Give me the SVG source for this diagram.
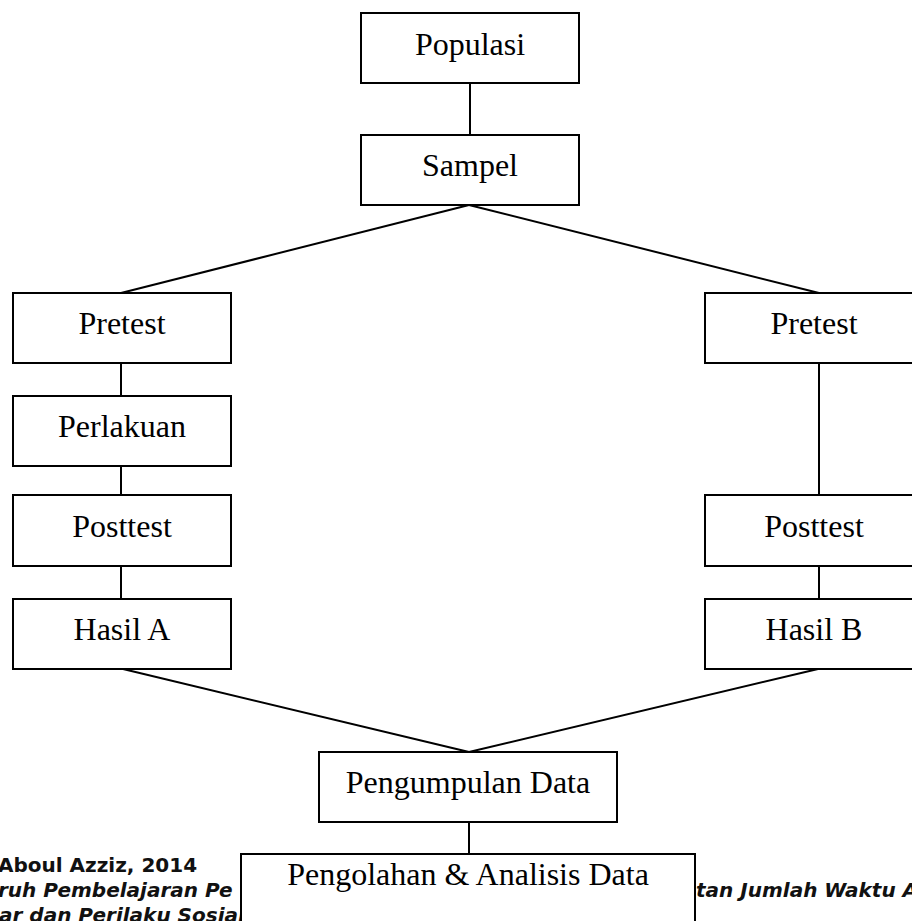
<svg xmlns="http://www.w3.org/2000/svg" width="912" height="921" viewBox="0 0 912 921">
<style>
.box{fill:#fff;stroke:#000;stroke-width:2}
.lbl{font-family:"Liberation Serif","Times New Roman",serif;font-size:32px;fill:#000;text-anchor:middle}
.conn line{stroke:#000;stroke-width:2}
.foot{font-family:"DejaVu Sans",Verdana,sans-serif;font-size:20px;font-weight:bold;fill:#111}
.it{font-style:italic}
</style>
<rect width="912" height="921" fill="#fff"/>
<g id="footer">
<text class="foot" x="-2" y="872">Aboul Azziz, 2014</text>
<text class="foot it" x="-2" y="897">ruh Pembelajaran Pe</text>
<text class="foot it" x="-1" y="922">ar dan Perilaku Sosial</text>
<text class="foot it" x="696" y="897">tan Jumlah Waktu A</text>
</g>
<g id="connectors" class="conn">
<line x1="470" y1="84" x2="470" y2="135"/>
<line x1="469" y1="205" x2="121" y2="293"/>
<line x1="469" y1="205" x2="819" y2="293"/>
<line x1="121" y1="363" x2="121" y2="396"/>
<line x1="121" y1="466" x2="121" y2="495"/>
<line x1="121" y1="566" x2="121" y2="599"/>
<line x1="819" y1="363" x2="819" y2="495"/>
<line x1="819" y1="566" x2="819" y2="599"/>
<line x1="123" y1="669" x2="469" y2="752"/>
<line x1="818" y1="669" x2="469" y2="752"/>
<line x1="469" y1="822" x2="469" y2="854"/>
</g>
<g id="populasi"><rect class="box" x="361" y="13" width="218" height="70"/><text class="lbl" x="470" y="55">Populasi</text></g>
<g id="sampel"><rect class="box" x="361" y="135" width="218" height="70"/><text class="lbl" x="470" y="176">Sampel</text></g>
<g id="pretest-a"><rect class="box" x="13" y="293" width="218" height="70"/><text class="lbl" x="122" y="334">Pretest</text></g>
<g id="perlakuan"><rect class="box" x="13" y="396" width="218" height="70"/><text class="lbl" x="122" y="437">Perlakuan</text></g>
<g id="posttest-a"><rect class="box" x="13" y="495" width="218" height="71"/><text class="lbl" x="122" y="537">Posttest</text></g>
<g id="hasil-a"><rect class="box" x="13" y="599" width="218" height="70"/><text class="lbl" x="122" y="640">Hasil A</text></g>
<g id="pretest-b"><rect class="box" x="705" y="293" width="218" height="70"/><text class="lbl" x="814" y="334">Pretest</text></g>
<g id="posttest-b"><rect class="box" x="705" y="495" width="218" height="71"/><text class="lbl" x="814" y="537">Posttest</text></g>
<g id="hasil-b"><rect class="box" x="705" y="599" width="218" height="70"/><text class="lbl" x="814" y="640">Hasil B</text></g>
<g id="pengumpulan"><rect class="box" x="319" y="752" width="298" height="70"/><text class="lbl" x="468" y="793">Pengumpulan Data</text></g>
<g id="pengolahan"><rect class="box" x="241" y="854" width="454" height="90"/><text class="lbl" x="468" y="885">Pengolahan &amp; Analisis Data</text></g>
</svg>
